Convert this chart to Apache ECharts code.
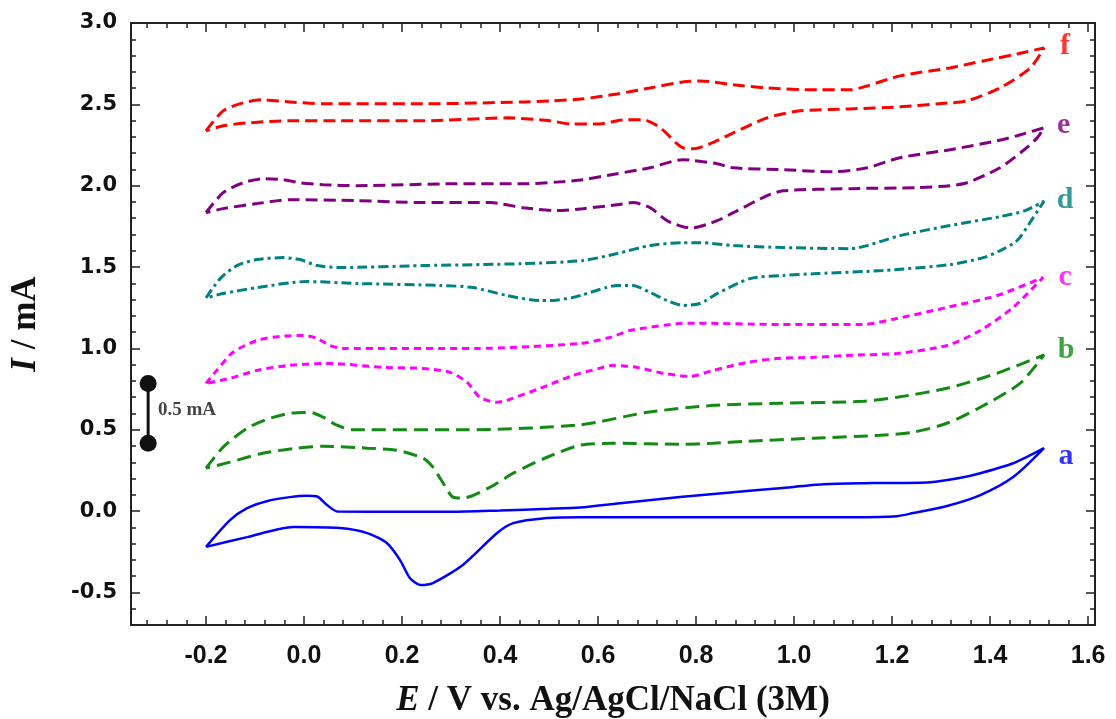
<!DOCTYPE html>
<html>
<head>
<meta charset="utf-8">
<script src="https://cdn.jsdelivr.net/npm/echarts@6/dist/echarts.min.js"></script>
<style>
  html, body { margin: 0; padding: 0; background: #fff; }
  #chart { width: 1116px; height: 719px; }
</style>
</head>
<body>
<div id="chart"></div>
<script>
  // axis ranges and tick values
  var xMin = -0.353, xMax = 1.614;
  var yMin = -0.7, yMax = 3.0;
  var xMajor = [-0.2, 0.0, 0.2, 0.4, 0.6, 0.8, 1.0, 1.2, 1.4, 1.6];
  var yMajor = [-0.5, 0.0, 0.5, 1.0, 1.5, 2.0, 2.5, 3.0];

  // cyclic voltammograms: forward scan to 1.51 V, then back to -0.2 V
  var curveA = [[-0.2,-0.22],[-0.151,-0.055],[-0.116,0.018],[-0.076,0.061],[-0.029,0.086],[0.006,0.095],[0.027,0.09],
    [0.047,0.037],[0.069,-0.003],[0.2,-0.004],[0.3,-0.004],[0.4,0.004],[0.5,0.014],[0.563,0.022],[0.65,0.05],
    [0.767,0.086],[0.87,0.115],[0.971,0.141],[1.06,0.165],[1.161,0.172],[1.278,0.178],[1.34,0.205],[1.38,0.233],
    [1.447,0.294],[1.51,0.387],
    [1.447,0.209],[1.38,0.098],[1.312,0.031],[1.243,-0.012],[1.21,-0.031],[1.12,-0.037],[0.78,-0.037],[0.563,-0.037],
    [0.496,-0.043],[0.427,-0.074],[0.394,-0.135],[0.324,-0.331],[0.263,-0.442],[0.237,-0.454],[0.216,-0.411],
    [0.196,-0.301],[0.169,-0.196],[0.129,-0.135],[0.073,-0.104],[-0.022,-0.098],[-0.116,-0.16],[-0.2,-0.22]];
  var curveB = [[-0.2,0.264],[-0.165,0.393],[-0.116,0.509],[-0.076,0.564],[-0.029,0.601],[0.012,0.607],[0.039,0.577],
    [0.067,0.528],[0.1,0.5],[0.333,0.5],[0.563,0.53],[0.7,0.607],[0.835,0.65],[0.971,0.663],[1.141,0.675],[1.21,0.7],
    [1.312,0.755],[1.414,0.847],[1.51,0.96],
    [1.461,0.785],[1.38,0.638],[1.312,0.54],[1.243,0.485],[1.176,0.466],[1.039,0.448],[0.904,0.429],[0.835,0.417],
    [0.767,0.411],[0.631,0.417],[0.563,0.405],[0.496,0.331],[0.427,0.233],[0.38,0.147],[0.324,0.08],[0.304,0.086],
    [0.284,0.172],[0.263,0.27],[0.243,0.325],[0.19,0.374],[0.129,0.387],[0.039,0.399],[-0.014,0.387],[-0.084,0.356],
    [-0.151,0.301],[-0.2,0.264]];
  var curveC = [[-0.2,0.785],[-0.178,0.865],[-0.145,0.976],[-0.096,1.049],[-0.049,1.074],[-0.002,1.08],[0.027,1.061],
    [0.053,1.018],[0.08,1.0],[0.353,1.0],[0.563,1.03],[0.624,1.067],[0.665,1.11],[0.767,1.153],[0.8,1.155],
    [0.971,1.147],[1.141,1.147],[1.21,1.184],[1.312,1.252],[1.414,1.325],[1.508,1.436],
    [1.447,1.252],[1.38,1.11],[1.312,1.018],[1.21,0.969],[1.108,0.957],[1.039,0.945],[0.971,0.939],[0.904,0.914],
    [0.835,0.865],[0.788,0.828],[0.733,0.847],[0.68,0.883],[0.631,0.896],[0.6,0.875],[0.549,0.834],[0.482,0.755],
    [0.414,0.681],[0.394,0.669],[0.359,0.699],[0.333,0.791],[0.298,0.853],[0.243,0.877],[0.161,0.883],[0.053,0.908],
    [-0.029,0.896],[-0.096,0.865],[-0.151,0.816],[-0.2,0.785]];
  var curveD = [[-0.2,1.31],[-0.171,1.429],[-0.137,1.509],[-0.096,1.546],[-0.043,1.558],[-0.008,1.546],[0.027,1.509],
    [0.073,1.497],[0.243,1.509],[0.447,1.521],[0.569,1.54],[0.639,1.583],[0.706,1.632],[0.773,1.65],[0.808,1.65],
    [0.876,1.632],[0.978,1.62],[1.114,1.613],[1.149,1.632],[1.216,1.693],[1.318,1.755],[1.42,1.81],[1.47,1.845],
    [1.51,1.905],
    [1.488,1.804],[1.455,1.663],[1.42,1.6],[1.386,1.558],[1.318,1.515],[1.182,1.479],[1.047,1.46],[0.978,1.448],
    [0.91,1.429],[0.843,1.337],[0.808,1.276],[0.773,1.264],[0.741,1.294],[0.706,1.344],[0.671,1.387],[0.639,1.387],
    [0.618,1.375],[0.569,1.33],[0.549,1.313],[0.502,1.294],[0.482,1.294],[0.414,1.325],[0.345,1.374],[0.278,1.387],
    [0.108,1.399],[0.006,1.411],[-0.096,1.374],[-0.165,1.337],[-0.2,1.31]];
  var curveE = [[-0.2,1.834],[-0.165,1.957],[-0.124,2.018],[-0.084,2.043],[-0.043,2.037],[-0.008,2.018],[0.039,2.006],
    [0.108,2.0],[0.312,2.012],[0.447,2.012],[0.516,2.022],[0.569,2.037],[0.639,2.074],[0.706,2.11],[0.773,2.16],
    [0.794,2.155],[0.843,2.135],[0.876,2.11],[0.978,2.098],[1.08,2.086],[1.149,2.11],[1.216,2.172],[1.318,2.221],
    [1.414,2.276],[1.455,2.307],[1.51,2.356],
    [1.496,2.294],[1.467,2.215],[1.42,2.11],[1.353,2.018],[1.318,2.0],[1.251,1.988],[1.114,1.982],[0.978,1.969],
    [0.945,1.939],[0.876,1.834],[0.843,1.785],[0.794,1.742],[0.773,1.748],[0.741,1.785],[0.706,1.865],[0.671,1.896],
    [0.639,1.883],[0.569,1.859],[0.516,1.847],[0.447,1.865],[0.38,1.896],[0.243,1.896],[0.108,1.908],[-0.029,1.914],
    [-0.096,1.89],[-0.165,1.859],[-0.2,1.834]];
  var curveF = [[-0.2,2.337],[-0.165,2.46],[-0.124,2.509],[-0.084,2.528],[-0.029,2.515],[0.039,2.503],[0.243,2.503],
    [0.447,2.515],[0.502,2.521],[0.569,2.534],[0.639,2.564],[0.706,2.601],[0.773,2.638],[0.808,2.644],[0.876,2.62],
    [0.945,2.601],[1.047,2.589],[1.114,2.589],[1.149,2.613],[1.216,2.675],[1.318,2.724],[1.386,2.767],[1.455,2.81],
    [1.51,2.847],
    [1.482,2.724],[1.42,2.601],[1.353,2.521],[1.318,2.509],[1.216,2.485],[1.114,2.472],[1.012,2.46],[0.945,2.417],
    [0.876,2.325],[0.829,2.258],[0.794,2.227],[0.773,2.233],[0.761,2.258],[0.727,2.356],[0.692,2.405],[0.659,2.405],
    [0.639,2.399],[0.604,2.38],[0.543,2.38],[0.502,2.399],[0.414,2.417],[0.243,2.399],[0.073,2.399],[-0.029,2.399],
    [-0.11,2.387],[-0.165,2.368],[-0.2,2.337]];

  // curve letters and where they sit
  var curveNames = ['a', 'b', 'c', 'd', 'e', 'f'];
  var letterX = [1.555, 1.555, 1.553, 1.553, 1.55, 1.553];
  var letterY = [0.34, 0.99, 1.44, 1.91, 2.37, 2.86];

  // 0.5 mA scale bar
  var scaleBar = [[-0.318, 0.785], [-0.318, 0.417]];
  var scaleText = [[-0.298, 0.62]];

  var colors = ['#0000ff', '#138a13', '#ff00ff', '#008080', '#800080', '#ff0000'];
  var dashes = ['solid', [14, 7], [7, 5], [10, 4, 3, 4], [12, 6], [12, 6]];
  var curves = [curveA, curveB, curveC, curveD, curveE, curveF];

  var xMinor = [], yMinor = [];
  for (var i = -8; i <= 40; i++) { var v = +(i * 0.04).toFixed(2); if (v > xMin && v < xMax) xMinor.push(v); }
  for (var j = -7; j <= 30; j++) yMinor.push(+(j * 0.1).toFixed(1));

  var axisColor = '#222';

  function axisDef(min, max, pos, ticks, len) {
    return {
      type: 'value', min: min, max: max, position: pos,
      axisLine: { show: true, onZero: false, lineStyle: { color: axisColor, width: 2 } },
      splitLine: { show: false },
      axisTick: { show: true, inside: true, length: len, customValues: ticks, lineStyle: { color: axisColor, width: 1.5 } },
      axisLabel: { show: false }
    };
  }

  var xAxes = [
    axisDef(xMin, xMax, 'bottom', xMajor, 9),
    axisDef(xMin, xMax, 'bottom', xMinor, 5),
    axisDef(xMin, xMax, 'top', xMajor, 9),
    axisDef(xMin, xMax, 'top', xMinor, 5)
  ];
  xAxes[0].axisLabel = {
    show: true, customValues: xMajor, margin: 19,
    formatter: function (v) { return v.toFixed(1); },
    fontFamily: '"Liberation Sans Narrow", "Liberation Sans", Arial, sans-serif',
    fontWeight: 'bold', fontSize: 25, color: '#111'
  };
  xAxes[0].name = '{i|E} / V vs. Ag/AgCl/NaCl (3M)';
  xAxes[0].nameLocation = 'middle';
  xAxes[0].nameGap = 58;
  xAxes[0].nameTextStyle = {
    fontFamily: '"Liberation Serif", "Times New Roman", serif', fontWeight: 'bold', fontSize: 35, color: '#111',
    rich: { i: { fontFamily: '"Liberation Serif", serif', fontWeight: 'bold', fontStyle: 'italic', fontSize: 35, color: '#111' } }
  };

  var yAxes = [
    axisDef(yMin, yMax, 'left', yMajor, 9),
    axisDef(yMin, yMax, 'left', yMinor, 5),
    axisDef(yMin, yMax, 'right', yMajor, 9),
    axisDef(yMin, yMax, 'right', yMinor, 5)
  ];
  yAxes[0].axisLabel = {
    show: true, customValues: yMajor, margin: 14,
    formatter: function (v) { return v.toFixed(1); },
    fontFamily: '"DejaVu Sans", Verdana, sans-serif', fontWeight: 'bold', fontSize: 21, color: '#111'
  };
  yAxes[0].name = '{i|I} / mA';
  yAxes[0].nameLocation = 'middle';
  yAxes[0].nameGap = 88;
  yAxes[0].nameTextStyle = {
    fontFamily: '"Liberation Serif", "Times New Roman", serif', fontWeight: 'bold', fontSize: 35, color: '#111',
    rich: { i: { fontFamily: '"Liberation Serif", serif', fontWeight: 'bold', fontStyle: 'italic', fontSize: 35, color: '#111' } }
  };

  var series = [];
  curves.forEach(function (c, k) {
    series.push({
      name: curveNames[k], type: 'line', data: c, smooth: 0.25,
      showSymbol: false, symbol: 'none', silent: true,
      lineStyle: { color: colors[k], width: k === 0 ? 2.5 : 3, type: dashes[k] }
    });
  });

  series.push({
    type: 'scatter', silent: true, symbolSize: 0,
    data: curveNames.map(function (n, k) {
      return { value: [letterX[k], letterY[k]], label: { formatter: n, color: colors[k] } };
    }),
    label: {
      show: true, position: 'inside',
      fontFamily: '"Liberation Serif", "Times New Roman", serif', fontWeight: 'bold', fontSize: 30
    }
  });

  series.push({
    type: 'line', data: scaleBar, silent: true, symbol: 'circle', symbolSize: 17, showSymbol: true,
    lineStyle: { color: '#111', width: 3 }, itemStyle: { color: '#111' }
  });
  series.push({
    type: 'scatter', data: scaleText, silent: true, symbolSize: 0,
    label: {
      show: true, position: 'right', distance: 0, formatter: '0.5 mA',
      fontFamily: '"Liberation Serif", "Times New Roman", serif', fontWeight: 'bold', fontSize: 19, color: '#111'
    }
  });

  var chart = echarts.init(document.getElementById('chart'), null, { renderer: 'canvas' });
  chart.setOption({
    animation: false,
    backgroundColor: '#fff',
    grid: { left: 131, right: 21, top: 23, bottom: 94, containLabel: false, outerBoundsMode: 'none' },
    xAxis: xAxes,
    yAxis: yAxes,
    series: series
  });
</script>
</body>
</html>
